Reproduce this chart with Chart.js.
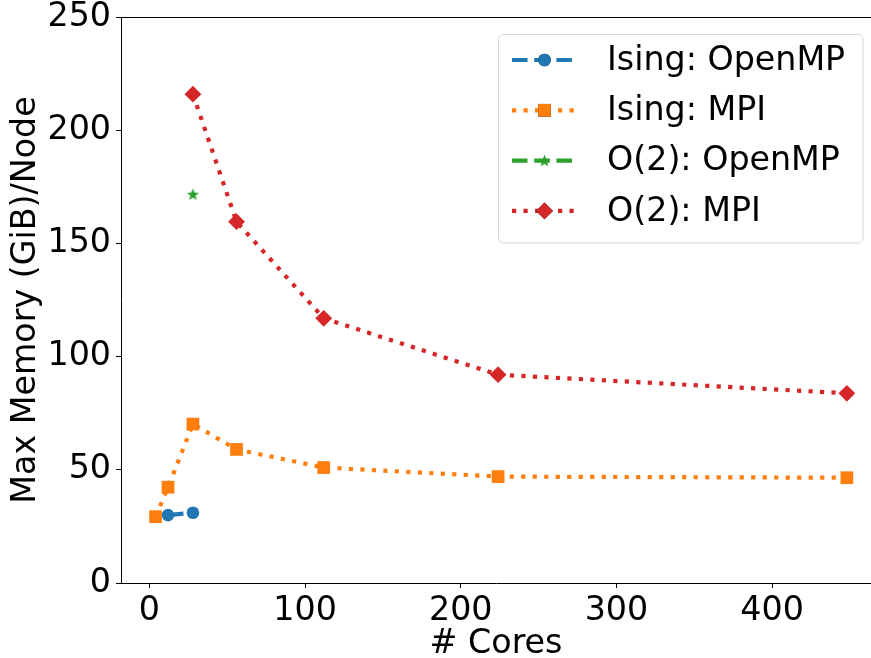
<!DOCTYPE html>
<html>
<head>
<meta charset="utf-8">
<script src="https://cdn.jsdelivr.net/npm/chart.js@4/dist/chart.umd.min.js"></script>
<style>
  html, body { margin: 0; padding: 0; background: #ffffff; }
  #wrap { width: 871px; height: 658px; }
</style>
</head>
<body>
<div id="wrap"><canvas id="c" width="871" height="658"></canvas></div>
<script>
// ---- data ----
const seriesLabels = ["Ising: OpenMP", "Ising: MPI", "O(2): OpenMP", "O(2): MPI"];
const isingOmpCores = [12, 28];
const isingOmpMem   = [30.0, 31.0];
const isingMpiCores = [4, 12, 28, 56, 112, 224, 448];
const isingMpiMem   = [29.3, 42.3, 70.2, 59.0, 51.0, 47.0, 46.5];
const o2OmpCores    = [28];
const o2OmpMem      = [171.7];
const o2MpiCores    = [28, 56, 112, 224, 448];
const o2MpiMem      = [215.9, 159.6, 116.9, 92.0, 83.8];
const xTicks = [0, 100, 200, 300, 400];
const yTicks = [0, 50, 100, 150, 200, 250];
const xTitle = "# Cores";
const yTitle = "Max Memory (GiB)/Node";

const FONT = "'DejaVu Sans', 'Liberation Sans', sans-serif";
const FS = 33.3;
const C = { blue: '#1f77b4', orange: '#ff7f0e', green: '#2ca02c', red: '#d62728' };

function pts(xs, ys) { return xs.map((x, i) => ({ x: x, y: ys[i] })); }

function makeStar(color, r) {
  const s = Math.ceil(r * 2 + 2);
  const cv = document.createElement('canvas');
  cv.width = s; cv.height = s;
  const g = cv.getContext('2d');
  g.fillStyle = color;
  g.beginPath();
  const cx = s / 2, cy = s / 2 + 0.5, ri = r * 0.42;
  for (let i = 0; i < 10; i++) {
    const rr = i % 2 === 0 ? r : ri;
    const a = -Math.PI / 2 + i * Math.PI / 5;
    const px = cx + rr * Math.cos(a), py = cy + rr * Math.sin(a);
    if (i === 0) g.moveTo(px, py); else g.lineTo(px, py);
  }
  g.closePath();
  g.fill();
  return cv;
}
const starImg = makeStar(C.green, 6.5);

const LW = 4.2;
const DASHED = [15.5, 6.7];
const DOTTED = [LW, 7.3];

const styles = [
  { color: C.blue,   dash: DASHED, point: 'circle',  radius: 6.3 },
  { color: C.orange, dash: DOTTED, point: 'rect',    radius: 9 },
  { color: C.green,  dash: DASHED, point: starImg,   radius: 6.5 },
  { color: C.red,    dash: DOTTED, point: 'rectRot', radius: 8.4 }
];
const dataSets = [
  pts(isingOmpCores, isingOmpMem),
  pts(isingMpiCores, isingMpiMem),
  pts(o2OmpCores, o2OmpMem),
  pts(o2MpiCores, o2MpiMem)
];

const datasets = dataSets.map((d, i) => ({
  label: seriesLabels[i],
  data: d,
  order: 3 - i,
  borderColor: styles[i].color,
  backgroundColor: styles[i].color,
  borderWidth: LW,
  borderDash: styles[i].dash,
  borderCapStyle: 'butt',
  pointStyle: styles[i].point,
  pointRadius: styles[i].radius,
  pointHoverRadius: styles[i].radius,
  pointBorderWidth: 0,
  pointBackgroundColor: styles[i].color,
  pointBorderColor: styles[i].color,
  showLine: true,
  tension: 0,
  fill: false
}));

function drawHandle(ctx, st, x0, x1, y) {
  ctx.save();
  ctx.strokeStyle = st.color;
  ctx.lineWidth = LW;
  ctx.lineCap = 'butt';
  ctx.setLineDash(st.dash);
  ctx.beginPath();
  ctx.moveTo(x0, y); ctx.lineTo(x1, y);
  ctx.stroke();
  ctx.setLineDash([]);
  const cx = (x0 + x1) / 2;
  if (st.point instanceof HTMLCanvasElement) {
    ctx.drawImage(st.point, cx - st.point.width / 2, y - st.point.height / 2);
  } else {
    Chart.helpers.drawPoint(ctx, { pointStyle: st.point, radius: st.radius, borderWidth: 0 }, cx, y);
    ctx.fillStyle = st.color;
    ctx.fill();
  }
  ctx.restore();
}

const frame = {
  id: 'frame',
  afterDraw(chart) {
    const ctx = chart.ctx, a = chart.chartArea;
    ctx.save();
    ctx.strokeStyle = '#000000';
    ctx.lineWidth = 1;
    ctx.beginPath();
    ctx.moveTo(a.left, a.top + 0.5);
    ctx.lineTo(a.right, a.top + 0.5);
    ctx.stroke();
    ctx.restore();
  }
};

const legendBox = {
  id: 'legendBox',
  afterDraw(chart) {
    const ctx = chart.ctx;
    const bx = 498.5, by = 34.5, bw = 364.5, bh = 208.5, r = 5;
    ctx.save();
    ctx.fillStyle = 'rgba(255,255,255,0.8)';
    ctx.strokeStyle = '#d5d5d5';
    ctx.lineWidth = 1;
    ctx.beginPath();
    ctx.roundRect(bx, by, bw, bh, r);
    ctx.fill();
    ctx.stroke();
    ctx.font = FS + 'px ' + FONT;
    ctx.fillStyle = '#000000';
    ctx.textBaseline = 'middle';
    ctx.textAlign = 'left';
    for (let i = 0; i < seriesLabels.length; i++) {
      const y = 60 + i * 50.3;
      drawHandle(ctx, styles[i], 512, 577, y);
      ctx.fillText(seriesLabels[i], 607, y + 1);
    }
    ctx.restore();
  }
};

new Chart(document.getElementById('c'), {
  type: 'scatter',
  data: { datasets: datasets },
  options: {
    responsive: false,
    animation: false,
    events: [],
    layout: { autoPadding: false, padding: { top: 17, right: 0, left: 0, bottom: 0 } },
    plugins: {
      legend: { display: false },
      tooltip: { enabled: false }
    },
    scales: {
      x: {
        type: 'linear',
        min: -18.2,
        max: 463.5,
        afterFit(s) { s.height = 75; s.paddingLeft = 0; s.paddingRight = 0; },
        afterBuildTicks(s) { s.ticks = xTicks.map(v => ({ value: v })); },
        grid: { display: true, drawOnChartArea: false, drawTicks: true, tickLength: 5, color: '#000000', lineWidth: 1 },
        border: { display: true, color: '#000000', width: 1 },
        ticks: { color: '#000000', font: { family: FONT, size: FS }, padding: 3, maxRotation: 0, autoSkip: false },
        title: { display: true, text: xTitle, color: '#000000', font: { family: FONT, size: FS, lineHeight: 0.8 }, padding: { top: 0, bottom: 0 } }
      },
      y: {
        type: 'linear',
        min: 0,
        max: 250,
        afterFit(s) { s.width = 121; s.paddingTop = 0; s.paddingBottom = 0; },
        afterBuildTicks(s) { s.ticks = yTicks.map(v => ({ value: v })); },
        grid: { display: true, drawOnChartArea: false, drawTicks: true, tickLength: 5, color: '#000000', lineWidth: 1 },
        border: { display: true, color: '#000000', width: 1 },
        ticks: { color: '#000000', font: { family: FONT, size: FS }, padding: 5, autoSkip: false },
        title: { display: true, text: yTitle, color: '#000000', font: { family: FONT, size: FS }, padding: { top: 6, bottom: 0 } }
      }
    }
  },
  plugins: [frame, legendBox]
});
</script>
</body>
</html>
